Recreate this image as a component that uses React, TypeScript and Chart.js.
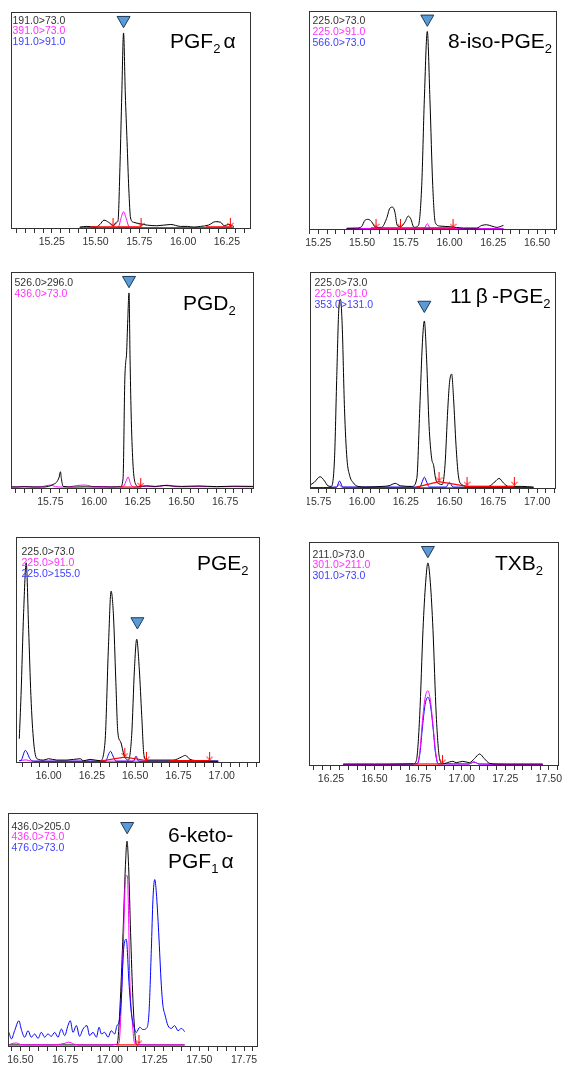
import React, { useEffect, useRef } from 'react';
import { Chart, registerables } from 'chart.js';

Chart.register(...registerables);

// ---------------- DATA ----------------
// Panel 1: PGF2α
const p1BlackX = [15.41, 15.45, 15.50, 15.525, 15.548, 15.575, 15.603, 15.618, 15.628, 15.640, 15.650, 15.660, 15.670, 15.680, 15.690, 15.700, 15.718, 15.756, 15.795, 15.85, 15.93, 15.985, 16.025, 16.06, 16.10, 16.145, 16.185, 16.215, 16.235, 16.26, 16.29];
const p1BlackY = [0.3, 0.6, 0.3, 1.5, 3.5, 2.5, 0.9, 2.5, 3.0, 30, 62, 90.3, 62, 40, 18, 4.5, 2.5, 1.8, 1.2, 0.9, 1.5, 0.6, 0.6, 0.3, 0.6, 1.2, 2.8, 2.5, 0.9, 1.5, 0.6];
const p1MagX = [15.41, 15.62, 15.632, 15.645, 15.66, 15.675, 15.69, 15.70, 16.29];
const p1MagY = [0, 0, 0.5, 4.3, 7.4, 4.3, 0.5, 0, 0];
const p1BlueX = [15.41, 16.29];
const p1BlueY = [0, 0];
const p1RedX = [15.47, 15.76, 15.80, 16.13, 16.28];
const p1RedY = [0.4, 0.4, null, 0.4, 0.4];
const p1ArrowX = [15.60, 15.76, 16.27];
const p1ArrowY = [2.5, 2.5, 2.5];
const p1MarkX = [15.66];
const p1MarkY = [96.2];

// Panel 2: 8-iso-PGE2
const p2BlackX = [15.412, 15.469, 15.497, 15.516, 15.535, 15.554, 15.578, 15.611, 15.64, 15.659, 15.674, 15.688, 15.701, 15.72, 15.745, 15.764, 15.778, 15.797, 15.822, 15.841, 15.856, 15.873, 15.888, 15.904, 15.919, 15.946, 16.003, 16.079, 16.155, 16.184, 16.212, 16.241, 16.27, 16.308];
const p2BlackY = [0.2, 0.3, 0.9, 3.8, 4.3, 3.3, 0.6, 0.6, 4.6, 9.4, 9.9, 7.6, 1.5, 0.9, 3.0, 5.8, 4.6, 0.6, 1.5, 19.8, 59.4, 90.6, 59.4, 19.8, 2.7, 1.2, 0.9, 0.3, 0.3, 1.5, 1.8, 1.2, 0.6, 1.5];
const p2MagX = [15.412, 15.855, 15.873, 15.89, 16.308];
const p2MagY = [0, 0.2, 2.3, 0.2, 0];
const p2BlueX = [15.412, 16.308];
const p2BlueY = [0, 0];
const p2RedX = [15.55, 16.03];
const p2RedY = [0.4, 0.4];
const p2ArrowX = [15.58, 15.72, 16.02];
const p2ArrowY = [2.5, 2.5, 2.5];
const p2MarkX = [15.873];
const p2MarkY = [96.4];

// Panel 3: PGD2
const p3BlackX = [15.525, 15.60, 15.70, 15.74, 15.765, 15.785, 15.80, 15.808, 15.813, 15.823, 15.884, 15.95, 16.05, 16.151, 16.166, 16.176, 16.181, 16.186, 16.193, 16.200, 16.206, 16.212, 16.222, 16.234, 16.255, 16.30, 16.35, 16.40, 16.45, 16.50, 16.60, 16.70, 16.80, 16.915];
const p3BlackY = [0.3, 0.4, 0.3, 0.6, 1.5, 2.5, 4.8, 7.4, 4.3, 0.6, 0.3, 0.4, 0.3, 0.4, 4.3, 50, 58, 62, 78, 90.3, 60, 35, 12, 2.5, 0.6, 0.9, 0.6, 1.0, 0.8, 0.6, 0.8, 0.5, 0.7, 0.6];
const p3MagX = [15.525, 15.56, 15.60, 15.65, 15.70, 15.75, 15.78, 15.82, 15.86, 15.90, 15.95, 16.00, 16.05, 16.10, 16.15, 16.17, 16.185, 16.195, 16.21, 16.23, 16.30, 16.35, 16.40, 16.42, 16.45, 16.50, 16.60, 16.70, 16.80, 16.915];
const p3MagY = [0.5, 0.3, 0.6, 0.3, 0.5, 1.2, 0.5, 0.3, 0.4, 1.0, 1.2, 0.5, 0.6, 0.3, 0.4, 0.8, 3.5, 5.0, 1.5, 0.3, 0.6, 0.4, 1.0, 1.2, 0.6, 0.4, 0.5, 0.4, 0.5, 0.4];
const p3RedX = [16.15, 16.27];
const p3RedY = [0.3, 0.3];
const p3ArrowX = [16.267];
const p3ArrowY = [2.5];
const p3MarkX = [16.2];
const p3MarkY = [96.2];

// Panel 4: 11β-PGE2
const p4BlackX = [15.703, 15.727, 15.761, 15.786, 15.805, 15.824, 15.843, 15.856, 15.867, 15.877, 15.887, 15.90, 15.914, 15.929, 15.948, 15.977, 16.02, 16.116, 16.154, 16.19, 16.219, 16.286, 16.313, 16.33, 16.345, 16.356, 16.369, 16.383, 16.398, 16.409, 16.42, 16.44, 16.459, 16.474, 16.49, 16.50, 16.512, 16.523, 16.537, 16.55, 16.57, 16.608, 16.722, 16.76, 16.783, 16.808, 16.836, 16.913, 16.98];
const p4BlackY = [1.2, 2.5, 5.1, 3.1, 0.9, 0.6, 13.5, 52, 82, 87.3, 75, 36.6, 13.5, 5.8, 2.5, 0.6, 0.3, 0.6, 0.9, 2.0, 0.9, 0.6, 4.3, 36.6, 67.3, 77.3, 59.6, 28.9, 13.5, 10.4, 4.3, 1.8, 1.5, 10.4, 36.6, 48.8, 52.7, 41.2, 19.7, 5.8, 1.5, 0.6, 0.6, 2.8, 4.3, 2.2, 0.6, 0.6, 0.3];
const p4MagX = [15.703, 15.855, 15.870, 15.885, 16.98];
const p4MagY = [0, 0.2, 1.5, 0.2, 0];
const p4BlueX = [15.703, 15.855, 15.872, 15.89, 16.33, 16.345, 16.356, 16.37, 16.385, 16.48, 16.50, 16.52, 16.98];
const p4BlueY = [0, 0.3, 3.1, 0.3, 0.3, 3.0, 4.9, 2.5, 0.3, 0.3, 2.5, 0.3, 0];
const p4RedX = [16.31, 16.44, 16.60, 16.87];
const p4RedY = [0.3, 2.8, 0.6, 0.6];
const p4ArrowX = [16.44, 16.60, 16.87];
const p4ArrowY = [5.0, 3.0, 3.0];
const p4MarkX = [16.356];
const p4MarkY = [84.7];

// Panel 5: PGE2
const p5BlackX = [15.831, 15.841, 15.856, 15.871, 15.885, 15.898, 15.914, 15.933, 15.972, 16.0, 16.048, 16.106, 16.183, 16.202, 16.24, 16.298, 16.326, 16.346, 16.361, 16.375, 16.388, 16.40, 16.417, 16.436, 16.461, 16.48, 16.496, 16.509, 16.524, 16.538, 16.551, 16.567, 16.72, 16.769, 16.79, 16.817, 16.875, 16.98];
const p5BlackY = [10.2, 29.4, 66.3, 88.5, 58.9, 29.4, 8.7, 1.3, 0.7, 1.3, 0.7, 0.7, 1.3, 0.4, 1.0, 0.4, 8.7, 51.6, 75.9, 64.8, 36.8, 13.1, 8.7, 2.8, 0.7, 11.7, 41.2, 54.5, 41.2, 20.5, 2.8, 0.7, 0.7, 2.1, 2.8, 1.0, 0.4, 0.2];
const p5MagX = [15.831, 15.87, 15.90, 16.98];
const p5MagY = [0.3, 0.8, 0.2, 0.2];
const p5BlueX = [15.831, 15.841, 15.866, 15.895, 15.92, 16.33, 16.345, 16.358, 16.372, 16.39, 16.49, 16.505, 16.52, 16.98];
const p5BlueY = [0.5, 0.6, 5.0, 1.0, 0.2, 0.2, 3.0, 4.6, 2.5, 0.2, 0.2, 2.4, 0.2, 0.2];
const p5RedX = [16.30, 16.44, 16.565, 16.60, 16.70, 16.93];
const p5RedY = [0.3, 2.0, 0.5, null, 0.5, 0.5];
const p5ArrowX = [16.44, 16.565, 16.93];
const p5ArrowY = [4.0, 2.5, 2.5];
const p5MarkX = [16.513];
const p5MarkY = [62.4];

// Panel 6: TXB2
const p6BlackX = [16.32, 16.50, 16.721, 16.74, 16.759, 16.778, 16.793, 16.806, 16.82, 16.835, 16.854, 16.873, 16.892, 16.93, 16.949, 16.968, 17.006, 17.044, 17.073, 17.102, 17.13, 17.159, 17.197, 17.465];
const p6BlackY = [0.3, 0.3, 0.3, 1.9, 22, 60.8, 81.7, 90.6, 81.7, 60.8, 22, 2.7, 0.4, 1.2, 1.5, 0.9, 1.5, 0.9, 2.7, 4.8, 2.7, 0.6, 0.3, 0.3];
const p6MagX = [16.32, 16.745, 16.76, 16.775, 16.79, 16.806, 16.82, 16.835, 16.85, 16.865, 17.04, 17.07, 17.10, 17.465];
const p6MagY = [0, 0.4, 6, 20, 30, 33.2, 29, 18, 6, 0.4, 0.3, 1.2, 0.3, 0];
const p6BlueX = [16.32, 16.745, 16.76, 16.775, 16.79, 16.806, 16.82, 16.835, 16.85, 16.865, 17.04, 17.07, 17.10, 17.465];
const p6BlueY = [0, 0.4, 5, 17, 27, 30.3, 27, 17, 5, 0.4, 0.3, 1.2, 0.3, 0];
const p6RedX = [16.72, 16.89];
const p6RedY = [0.3, 0.3];
const p6ArrowX = [16.89];
const p6ArrowY = [2.5];
const p6MarkX = [16.806];
const p6MarkY = [96.3];

// Panel 7: 6-keto-PGF1α
const p7BlackX = [16.435, 16.70, 17.00, 17.037, 17.046, 17.059, 17.074, 17.087, 17.096, 17.105, 17.116, 17.129, 17.143, 17.152, 17.30, 17.418];
const p7BlackY = [0.3, 0.3, 0.3, 0.5, 2.9, 20, 48.6, 77, 87.9, 77, 48.6, 20, 2.9, 0.3, 0.3, 0.3];
const p7MagX = [16.435, 16.46, 16.48, 16.50, 16.55, 16.60, 16.65, 16.70, 16.75, 16.77, 16.80, 16.85, 16.90, 16.95, 17.00, 17.04, 17.051, 17.074, 17.089, 17.098, 17.105, 17.111, 17.126, 17.139, 17.2, 17.3, 17.418];
const p7MagY = [0.3, 1.0, 1.1, 0.5, 0.3, 0.4, 0.3, 0.4, 1.0, 1.5, 0.6, 0.3, 0.3, 0.3, 0.3, 0.5, 1.0, 40, 73, 73, 55, 30, 10, 1, 0.3, 0.3, 0.3];
const p7BlueX = [16.436, 16.45, 16.468, 16.492, 16.505, 16.524, 16.543, 16.561, 16.58, 16.599, 16.617, 16.636, 16.654, 16.673, 16.692, 16.71, 16.729, 16.748, 16.766, 16.779, 16.794, 16.813, 16.831, 16.85, 16.872, 16.887, 16.906, 16.925, 16.94, 16.953, 16.971, 16.99, 17.008, 17.027, 17.04, 17.051, 17.064, 17.077, 17.092, 17.107, 17.12, 17.133, 17.148, 17.167, 17.185, 17.204, 17.219, 17.232, 17.241, 17.251, 17.26, 17.273, 17.288, 17.297, 17.307, 17.325, 17.344, 17.362, 17.381, 17.40, 17.418];
const p7BlueY = [5.7, 2.9, 6.4, 10.7, 7.1, 3.6, 6.4, 3.6, 5.0, 3.1, 5.7, 3.6, 5.0, 4.0, 5.7, 3.6, 7.1, 4.3, 8.6, 10.7, 5.7, 8.6, 4.0, 7.1, 8.6, 4.3, 5.7, 3.6, 7.9, 5.0, 5.7, 3.6, 6.4, 5.0, 8.6, 10, 20, 41.4, 45.7, 27.1, 14.3, 8.6, 5.7, 7.9, 6.9, 7.4, 14.3, 41.4, 62.9, 71.4, 65.7, 48.6, 25.7, 17.1, 13.6, 8.6, 7.4, 8.6, 6.4, 7.4, 6.0];
const p7RedX = [17.035, 17.16];
const p7RedY = [0.3, 0.3];
const p7ArrowX = [17.163];
const p7ArrowY = [2.5];
const p7MarkX = [17.097];
const p7MarkY = [94.3];

// Tick settings (retention time, min)
const tickStep = 0.05;
const labelStep = 0.25;

// ---------------- RENDERING ----------------
const BLACK = '#000000';
const MAGENTA = '#ff00ff';
const BLUE = '#0000ff';
const RED = '#ff0000';
const AXIS_COLOR = '#333333';
const PAD = 3;
const AXIS_H = 24;
const NARROW = "'Liberation Sans Narrow', 'Liberation Sans', Arial, sans-serif";
const SANS = "'Liberation Sans', Arial, sans-serif";

type Series = { xs: number[]; ys: (number | null)[] };
type TraceDef = Series & { color: string };
type PanelDef = {
  frame: { left: number; top: number; width: number; height: number };
  xMin: number;
  xMax: number;
  traces: TraceDef[];
  red: Series;
  arrows: Series;
  mark: Series;
  legend: { left: number; top: number; lines: { text: string; color: string }[] };
  name: { left: number; top: number; lineHeight: number; lines: React.ReactNode[] };
};

const zip = (s: Series) => s.xs.map((x, i) => ({ x, y: s.ys[i] }));

const Sub = ({ children }: { children: React.ReactNode }) => (
  <span style={{ fontSize: 13, position: 'relative', top: 5 }}>{children}</span>
);

const LEG_BLACK = '#333333';
const LEG_MAG = '#ff33ff';
const LEG_BLUE = '#4040ff';

const panels: PanelDef[] = [
  {
    frame: { left: 11, top: 12, width: 240, height: 217 },
    xMin: 15.017, xMax: 16.388,
    traces: [
      { xs: p1BlueX, ys: p1BlueY, color: BLUE },
      { xs: p1MagX, ys: p1MagY, color: MAGENTA },
      { xs: p1BlackX, ys: p1BlackY, color: BLACK },
    ],
    red: { xs: p1RedX, ys: p1RedY },
    arrows: { xs: p1ArrowX, ys: p1ArrowY },
    mark: { xs: p1MarkX, ys: p1MarkY },
    legend: { left: 12.5, top: 14.5, lines: [
      { text: '191.0>73.0', color: LEG_BLACK },
      { text: '391.0>73.0', color: LEG_MAG },
      { text: '191.0>91.0', color: LEG_BLUE },
    ] },
    name: { left: 170, top: 30, lineHeight: 21, lines: [<>PGF<Sub>2</Sub><span style={{ marginLeft: 3 }}>α</span></>] },
  },
  {
    frame: { left: 309, top: 11, width: 248, height: 219 },
    xMin: 15.197, xMax: 16.614,
    traces: [
      { xs: p2BlueX, ys: p2BlueY, color: BLUE },
      { xs: p2MagX, ys: p2MagY, color: MAGENTA },
      { xs: p2BlackX, ys: p2BlackY, color: BLACK },
    ],
    red: { xs: p2RedX, ys: p2RedY },
    arrows: { xs: p2ArrowX, ys: p2ArrowY },
    mark: { xs: p2MarkX, ys: p2MarkY },
    legend: { left: 312.5, top: 15, lines: [
      { text: '225.0>73.0', color: LEG_BLACK },
      { text: '225.0>91.0', color: LEG_MAG },
      { text: '566.0>73.0', color: LEG_BLUE },
    ] },
    name: { left: 448, top: 30, lineHeight: 21, lines: [<>8-iso-PGE<Sub>2</Sub></>] },
  },
  {
    frame: { left: 11, top: 272, width: 243, height: 217 },
    xMin: 15.525, xMax: 16.915,
    traces: [
      { xs: p3MagX, ys: p3MagY, color: MAGENTA },
      { xs: p3BlackX, ys: p3BlackY, color: BLACK },
    ],
    red: { xs: p3RedX, ys: p3RedY },
    arrows: { xs: p3ArrowX, ys: p3ArrowY },
    mark: { xs: p3MarkX, ys: p3MarkY },
    legend: { left: 14.5, top: 277, lines: [
      { text: '526.0>296.0', color: LEG_BLACK },
      { text: '436.0>73.0', color: LEG_MAG },
    ] },
    name: { left: 183, top: 292, lineHeight: 21, lines: [<>PGD<Sub>2</Sub></>] },
  },
  {
    frame: { left: 310, top: 272, width: 246, height: 217 },
    xMin: 15.703, xMax: 17.108,
    traces: [
      { xs: p4MagX, ys: p4MagY, color: MAGENTA },
      { xs: p4BlueX, ys: p4BlueY, color: BLUE },
      { xs: p4BlackX, ys: p4BlackY, color: BLACK },
    ],
    red: { xs: p4RedX, ys: p4RedY },
    arrows: { xs: p4ArrowX, ys: p4ArrowY },
    mark: { xs: p4MarkX, ys: p4MarkY },
    legend: { left: 314.5, top: 277, lines: [
      { text: '225.0>73.0', color: LEG_BLACK },
      { text: '225.0>91.0', color: LEG_MAG },
      { text: '353.0>131.0', color: LEG_BLUE },
    ] },
    name: { left: 450, top: 285, lineHeight: 21, lines: [<>11<span style={{ margin: '0 4px' }}>β</span>-PGE<Sub>2</Sub></>] },
  },
  {
    frame: { left: 16, top: 537, width: 244, height: 226 },
    xMin: 15.812, xMax: 17.221,
    traces: [
      { xs: p5MagX, ys: p5MagY, color: MAGENTA },
      { xs: p5BlueX, ys: p5BlueY, color: BLUE },
      { xs: p5BlackX, ys: p5BlackY, color: BLACK },
    ],
    red: { xs: p5RedX, ys: p5RedY },
    arrows: { xs: p5ArrowX, ys: p5ArrowY },
    mark: { xs: p5MarkX, ys: p5MarkY },
    legend: { left: 21.5, top: 546, lines: [
      { text: '225.0>73.0', color: LEG_BLACK },
      { text: '225.0>91.0', color: LEG_MAG },
      { text: '225.0>155.0', color: LEG_BLUE },
    ] },
    name: { left: 197, top: 552, lineHeight: 21, lines: [<>PGE<Sub>2</Sub></>] },
  },
  {
    frame: { left: 309, top: 542, width: 250, height: 224 },
    xMin: 16.124, xMax: 17.558,
    traces: [
      { xs: p6BlueX, ys: p6BlueY, color: BLUE },
      { xs: p6MagX, ys: p6MagY, color: MAGENTA },
      { xs: p6BlackX, ys: p6BlackY, color: BLACK },
    ],
    red: { xs: p6RedX, ys: p6RedY },
    arrows: { xs: p6ArrowX, ys: p6ArrowY },
    mark: { xs: p6MarkX, ys: p6MarkY },
    legend: { left: 312.5, top: 548.5, lines: [
      { text: '211.0>73.0', color: LEG_BLACK },
      { text: '301.0>211.0', color: LEG_MAG },
      { text: '301.0>73.0', color: LEG_BLUE },
    ] },
    name: { left: 495, top: 552, lineHeight: 21, lines: [<>TXB<Sub>2</Sub></>] },
  },
  {
    frame: { left: 8, top: 813, width: 250, height: 234 },
    xMin: 16.431, xMax: 17.828,
    traces: [
      { xs: p7BlackX, ys: p7BlackY, color: BLACK },
      { xs: p7MagX, ys: p7MagY, color: MAGENTA },
      { xs: p7BlueX, ys: p7BlueY, color: BLUE },
    ],
    red: { xs: p7RedX, ys: p7RedY },
    arrows: { xs: p7ArrowX, ys: p7ArrowY },
    mark: { xs: p7MarkX, ys: p7MarkY },
    legend: { left: 11.5, top: 820.5, lines: [
      { text: '436.0>205.0', color: LEG_BLACK },
      { text: '436.0>73.0', color: LEG_MAG },
      { text: '476.0>73.0', color: LEG_BLUE },
    ] },
    name: { left: 168, top: 821.5, lineHeight: 26, lines: [<>6-keto-</>, <>PGF<Sub>1</Sub><span style={{ marginLeft: 3 }}>α</span></>] },
  },
];

const framePlugin = {
  id: 'frameBox',
  afterDatasetsDraw(chart: any) {
    const { ctx, chartArea: a } = chart;
    ctx.save();
    ctx.strokeStyle = AXIS_COLOR;
    ctx.lineWidth = 1;
    ctx.strokeRect(Math.round(a.left) + 0.5, Math.round(a.top) + 0.5, Math.round(a.right - a.left) - 1, Math.round(a.bottom - a.top) - 1);
    ctx.restore();
  },
};

function makeArrow(): HTMLCanvasElement {
  const c = document.createElement('canvas');
  c.width = 7;
  c.height = 9;
  const g = c.getContext('2d')!;
  g.strokeStyle = RED;
  g.lineWidth = 1;
  g.beginPath();
  g.moveTo(3.5, 0);
  g.lineTo(3.5, 8.5);
  g.moveTo(0.5, 5);
  g.lineTo(3.5, 8.5);
  g.lineTo(6.5, 5);
  g.stroke();
  return c;
}

const isLabel = (v: number) => {
  const r = v / labelStep;
  return Math.abs(r - Math.round(r)) < 1e-6;
};

function Panel({ def }: { def: PanelDef }) {
  const ref = useRef<HTMLCanvasElement>(null);
  const { frame } = def;
  const cw = frame.width + PAD * 2;
  const ch = frame.height + PAD + AXIS_H;

  useEffect(() => {
    if (!ref.current) return;
    const arrow = makeArrow();
    const datasets: any[] = [
      {
        data: zip(def.mark),
        showLine: false,
        pointStyle: 'triangle',
        rotation: 180,
        pointRadius: 7.5,
        pointBackgroundColor: '#5b9bd5',
        pointBorderColor: '#1f3a5a',
        pointBorderWidth: 1,
      },
      {
        data: zip(def.arrows),
        showLine: false,
        pointStyle: arrow,
        pointRadius: 4,
      },
      {
        data: zip(def.red),
        borderColor: RED,
        borderWidth: 1.2,
        pointRadius: 0,
        tension: 0,
        spanGaps: false,
      },
      ...def.traces.slice().reverse().map((t) => ({
        data: zip(t),
        borderColor: t.color,
        borderWidth: 1,
        pointRadius: 0,
        cubicInterpolationMode: 'monotone',
      })),
    ];
    const chart = new Chart(ref.current, {
      type: 'line',
      data: { datasets },
      options: {
        animation: false,
        responsive: false,
        maintainAspectRatio: false,
        events: [],
        layout: { autoPadding: false, padding: { left: PAD, right: PAD, top: PAD, bottom: 0 } },
        plugins: { legend: { display: false }, tooltip: { enabled: false }, title: { display: false } },
        scales: {
          x: {
            type: 'linear',
            min: def.xMin,
            max: def.xMax,
            border: { display: false },
            grid: { drawOnChartArea: false, drawTicks: true, tickLength: 4, color: AXIS_COLOR },
            ticks: {
              stepSize: tickStep,
              includeBounds: false,
              autoSkip: false,
              maxRotation: 0,
              minRotation: 0,
              padding: 3,
              color: '#333333',
              font: { family: NARROW, size: 10.5 },
              callback: (v: any) => (isLabel(Number(v)) ? Number(v).toFixed(2) : ''),
            },
            afterFit: (s: any) => {
              s.height = AXIS_H;
              s.paddingLeft = 0;
              s.paddingRight = 0;
            },
          },
          y: { type: 'linear', min: -0.6, max: 100, display: false },
        },
      } as any,
      plugins: [framePlugin],
    });
    return () => chart.destroy();
  }, [def]);

  return (
    <>
      <canvas
        ref={ref}
        width={cw}
        height={ch}
        style={{ position: 'absolute', left: frame.left - PAD, top: frame.top - PAD, width: cw, height: ch }}
      />
      <div
        style={{
          position: 'absolute',
          left: def.legend.left,
          top: def.legend.top,
          fontFamily: NARROW,
          fontSize: 10.5,
          lineHeight: '10.8px',
          whiteSpace: 'nowrap',
        }}
      >
        {def.legend.lines.map((l, i) => (
          <div key={i} style={{ color: l.color }}>{l.text}</div>
        ))}
      </div>
      <div
        style={{
          position: 'absolute',
          left: def.name.left,
          top: def.name.top,
          fontFamily: SANS,
          fontSize: 21,
          lineHeight: def.name.lineHeight + 'px',
          color: '#000',
          whiteSpace: 'nowrap',
        }}
      >
        {def.name.lines.map((l, i) => (
          <div key={i}>{l}</div>
        ))}
      </div>
    </>
  );
}

export default function App() {
  return (
    <div style={{ position: 'absolute', left: 0, top: 0, width: 571, height: 1066, background: '#fff', overflow: 'hidden' }}>
      {panels.map((p, i) => (
        <Panel key={i} def={p} />
      ))}
    </div>
  );
}
